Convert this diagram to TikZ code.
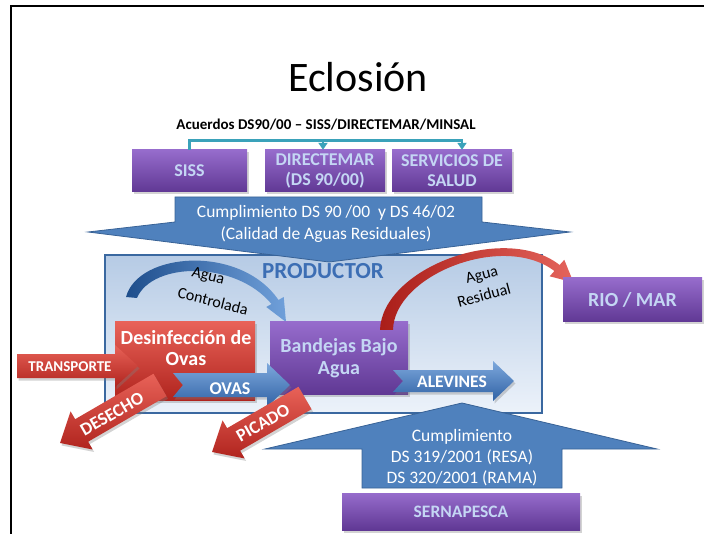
\documentclass[tikz,border=0pt]{standalone}
\usepackage{fontspec}
\setmainfont{Carlito}
\usetikzlibrary{calc,shadows,arrows.meta}

\definecolor{purT}{RGB}{150,108,204}
\definecolor{purB}{RGB}{96,56,148}
\definecolor{ptext}{RGB}{196,214,244}
\definecolor{redT}{RGB}{232,98,88}
\definecolor{redB}{RGB}{176,36,30}
\definecolor{bluA}{RGB}{79,129,189}
\definecolor{bluE}{RGB}{56,98,150}
\definecolor{arT}{RGB}{125,168,220}
\definecolor{arB}{RGB}{48,98,165}
\definecolor{prodT}{RGB}{182,203,229}
\definecolor{prodB}{RGB}{236,242,250}
\definecolor{prodE}{RGB}{58,104,160}
\definecolor{tealc}{RGB}{58,162,186}
\definecolor{prodtxt}{RGB}{60,110,180}
\definecolor{curveBD}{RGB}{30,78,140}
\definecolor{curveBL}{RGB}{112,160,218}
\definecolor{curveRD}{RGB}{170,30,25}
\definecolor{curveRL}{RGB}{228,100,92}

\newcommand{\fatarrow}[7]{%
  \coordinate (faT) at #2; \coordinate (faP) at #3;
  \coordinate (faH) at ($(faP)!#6!(faT)$);
  \coordinate (faN) at ($(faT)!#7!(faP)$);
  \path[#1] ($(faT)!#4!90:(faP)$) -- ($(faH)!#4!90:(faP)$) -- ($(faH)!#5!90:(faP)$) -- (faP)
    -- ($(faH)!#5!-90:(faP)$) -- ($(faH)!#4!-90:(faP)$) -- ($(faT)!#4!-90:(faP)$) -- (faN) -- cycle;
}

\begin{document}
\begin{tikzpicture}[x=1pt,y=-1pt,
  boxshadow/.style={drop shadow={shadow xshift=1.5pt,shadow yshift=-2.5pt,opacity=0.35}},
  pbox/.style={top color=purT,bottom color=purB,text=ptext,font=\bfseries\fontsize{18}{20}\selectfont,align=center,inner sep=0pt,boxshadow},
  rbox/.style={top color=redT,bottom color=redB,inner sep=0pt,boxshadow},
  redarrow/.style={top color=redT,bottom color=redB,boxshadow},
  bluearrow/.style={top color=arT,bottom color=arB,boxshadow},
  bigarrow/.style={fill=bluA,draw=bluE,line width=0.8pt},
  conn/.style={draw=tealc,line width=2.6pt},
  wtext/.style={text=white,font=\bfseries\fontsize{18}{20}\selectfont,inner sep=0pt},
  ntext/.style={text=black,font=\fontsize{16}{18}\selectfont,inner sep=0pt},
  atext/.style={text=white,font=\fontsize{17.5}{21.5}\selectfont,align=center,inner sep=0pt}
]
\useasboundingbox (0,0) rectangle (709,534);

% frame
\draw[line width=1.8pt] (11,534) -- (11,6) -- (704,6);

% title and agreement
\node[font=\fontsize{42}{50}\selectfont,inner sep=0pt] (title) at (358,77) {Eclosión};
\node[font=\bfseries\fontsize{15}{18}\selectfont,inner sep=0pt] (acuerdos) at (326,125) {Acuerdos DS90/00 – SISS/DIRECTEMAR/MINSAL};

% top boxes
\node[pbox,minimum width=115pt,minimum height=42pt] (siss) at (189.5,171) {SISS};
\node[pbox,minimum width=120pt,minimum height=42pt] (dir) at (325,171) {DIRECTEMAR\\(DS 90/00)};
\node[pbox,minimum width=120pt,minimum height=42pt] (serv) at (452,171) {SERVICIOS DE\\SALUD};

% teal connectors
\draw[conn,-{Triangle[width=9pt,length=7pt]}] (siss.north) |- ($(serv.north)+(10,-9)$) -- ($(serv.north)+(10,0)$);
\draw[conn,-{Triangle[width=9pt,length=7pt]}] ($(dir.north)+(-2,-9)$) -- ($(dir.north)+(-2,0)$);

% producer box
\node[top color=prodT,bottom color=prodB,draw=prodE,line width=2.5pt,minimum width=437pt,minimum height=158pt,inner sep=0pt] (prod) at (323.5,334) {};

% big down arrow
\path[bigarrow] (175,197) -- (482,197) -- (482,222) -- (570,232) -- (329,262) -- (88,232) -- (175,222) -- cycle;
\node[atext] (cump1) at (326,224) {Cumplimiento DS 90 /00\ \ y DS 46/02\\(Calidad de Aguas Residuales)};

\node[text=prodtxt,font=\bfseries\fontsize{23}{26}\selectfont,inner sep=0pt] (prodlbl) at (323,271) {PRODUCTOR};

% Agua Controlada curve
\shade[left color=curveBD,right color=curveBL] (126,297) .. controls (138,252) and (240,244) .. (278.5,300)
  -- (283.7,297) -- (286,322) -- (266.3,307) -- (271.5,304) .. controls (235,260) and (152,262) .. (137,298) -- cycle;
\node[ntext,rotate=-14] (agua1) at (208,277) {Agua};
\node[ntext,rotate=-14] (contr) at (213,301) {Controlada};

% inner boxes
\node[rbox,minimum width=140pt,minimum height=78pt] (desinf) at (185,361) {};
\node[text=white,font=\bfseries\fontsize{20}{21}\selectfont,align=center,inner sep=0pt] (desinftxt) at (186,348) {Desinfección de\\Ovas};
\node[pbox,font=\bfseries\fontsize{20}{22}\selectfont,minimum width=138pt,minimum height=72pt] (band) at (339,358) {Bandejas Bajo\\Agua};

% Agua Residual curve
\shade[left color=curveRD,right color=curveRL] (380,330) .. controls (382,268) and (505,222) .. (559.6,265)
  -- (564.3,259.8) -- (573.5,282.5) -- (549.7,276.3) -- (554.4,271) .. controls (503,232) and (394,275) .. (393,330) -- cycle;
\node[ntext,rotate=15] (agua2) at (482,276) {Agua};
\node[ntext,rotate=15] (resid) at (484,295) {Residual};

% straight arrows
\fatarrow{redarrow}{(17,366)}{(138,366)}{12pt}{21pt}{23pt}{0pt}
\node[wtext,font=\bfseries\fontsize{15}{18}\selectfont] (transp) at (70,367) {TRANSPORTE};
\fatarrow{bluearrow}{(173,385)}{(290,385)}{12pt}{22pt}{23pt}{10pt}
\node[wtext] (ovas) at (230,389) {OVAS};
\fatarrow{bluearrow}{(393,381)}{(514,381)}{11pt}{20pt}{21pt}{10pt}
\node[wtext,font=\bfseries\fontsize{17.5}{20}\selectfont] (alev) at (452,382) {ALEVINES};
\fatarrow{redarrow}{(160,385)}{(60,443)}{13pt}{22pt}{25pt}{0pt}
\node[wtext,rotate=30] (desecho) at (112,414) {DESECHO};
\fatarrow{redarrow}{(305,398)}{(212,452)}{13pt}{22pt}{25pt}{0pt}
\node[wtext,rotate=30] (picado) at (263,423) {PICADO};

% RIO / MAR
\node[pbox,font=\bfseries\fontsize{20}{22}\selectfont,minimum width=139pt,minimum height=44pt] (rio) at (632.5,300) {RIO / MAR};

% bottom up arrow
\path[bigarrow] (362,488) -- (362,449) -- (265,449) -- (462,403) -- (657,449) -- (562,449) -- (562,488) -- cycle;
\node[atext,font=\fontsize{17.5}{21}\selectfont] (cump2) at (462,458) {Cumplimiento\\DS 319/2001 (RESA)\\DS 320/2001 (RAMA)};

% SERNAPESCA
\node[pbox,font=\bfseries\fontsize{17.5}{20}\selectfont,minimum width=238pt,minimum height=37pt] (sern) at (461,511.5) {SERNAPESCA};
\end{tikzpicture}
\end{document}
